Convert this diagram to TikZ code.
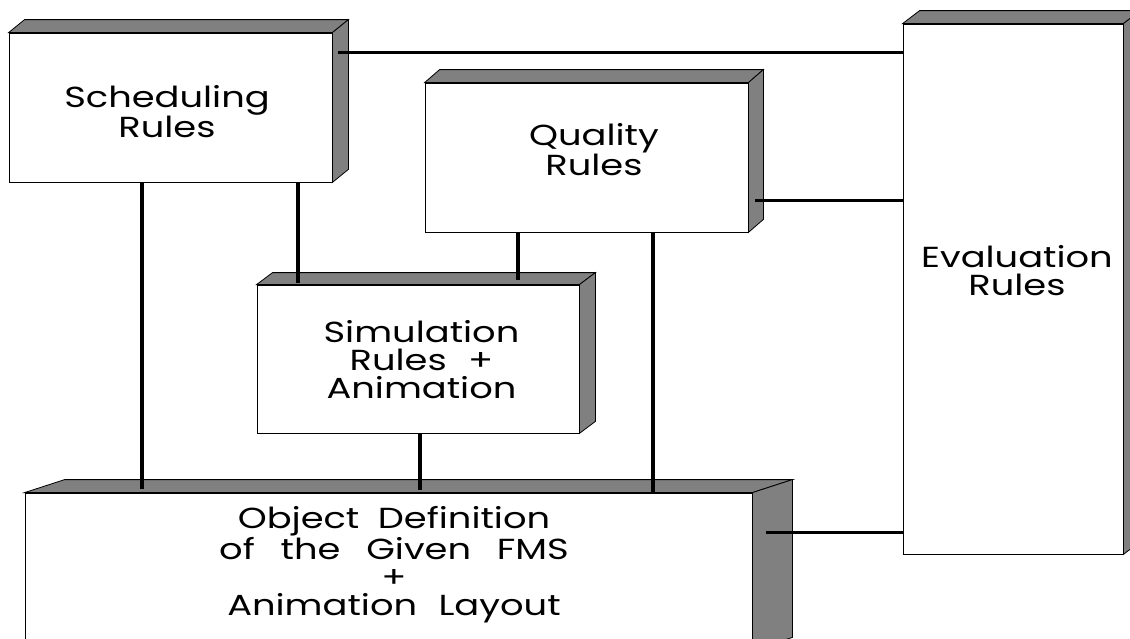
\documentclass[tikz,border=0pt]{standalone}
\usepackage{fontspec}
\setmainfont[FakeStretch=1.27]{Poppins}
\usetikzlibrary{calc}

\definecolor{sidegray}{HTML}{808080}

\tikzset{
  face/.style={draw=black, line width=0.8pt, fill=white, inner sep=0pt},
  shade/.style={draw=black, line width=0.8pt, fill=sidegray, line join=miter},
  conn/.style={line width=3.2pt},
  lbl/.style={align=center, inner sep=0pt, anchor=north,
              font=\fontsize{29}{28}\selectfont},
}

% top and right faces of a raised block, given the depth offset
\newcommand{\extrude}[3]{%
  \filldraw[shade] (#1.north west) -- ++(#2,-#3)
     -- ([shift={(#2,-#3)}]#1.north east) -- (#1.north east) -- cycle;
  \filldraw[shade] (#1.north east) -- ([shift={(#2,-#3)}]#1.north east)
     -- ([shift={(#2,-#3)}]#1.south east) -- (#1.south east) -- cycle;
}

\begin{document}
\begin{tikzpicture}[x=1pt, y=-1pt]
\clip (0,0) rectangle (1130,638);
\fill[white] (0,0) rectangle (1130,638);

% blocks
\node[face, minimum width=323pt, minimum height=149pt] (sched) at (170.5,107.5) {};
\extrude{sched}{16}{13}
\node[face, minimum width=323pt, minimum height=149pt] (qual) at (586.5,157.5) {};
\extrude{qual}{15}{13}
\node[face, minimum width=322pt, minimum height=148pt] (sim) at (418,359) {};
\extrude{sim}{16}{12}
\node[face, minimum width=220pt, minimum height=530pt] (eval) at (1013,289) {};
\extrude{eval}{17}{13}
\node[face, minimum width=727pt, minimum height=157pt] (obj) at (388.5,571.5) {};
\extrude{obj}{40}{13}

% labels
\node[lbl, font=\fontsize{29}{24}\selectfont] (tsched) at (167,85) {Scheduling\\Rules};
\node[lbl] (tqual) at (594,123) {Quality\\Rules};
\node[lbl] (tsim) at (421.5,320) {Simulation\\Rules\hspace{0.4em} +\\Animation};
\node[lbl] (teval) at (1017,245) {Evaluation\\Rules};
\node[lbl] (tobj) at (394,506) {Object\hspace{0.3em} Definition\\of\hspace{0.55em} the\hspace{0.55em} Given\hspace{0.55em} FMS\\+\\Animation\hspace{0.4em} Layout};

% connectors
\draw[conn] ($(sched.north east)+(6,20)$) -- (eval.west |- {$(sched.north east)+(6,20)$});
\draw[conn] ($(qual.south east)+(7,-32)$) -- (eval.west |- {$(qual.south east)+(7,-32)$});
\draw[conn] ($(obj.north east)+(14,40)$) -- (eval.west |- {$(obj.north east)+(14,40)$});

\draw[conn] (sched.south -| 142,0) -- ($(obj.north -| 142,0)+(0,-4)$);
\draw[conn] (sched.south -| 298,0) -- ($(sim.north -| 298,0)+(0,-2)$);
\draw[conn] (qual.south -| 518,0) -- ($(sim.north -| 518,0)+(0,-5)$);
\draw[conn] (qual.south -| 653,0) -- ($(obj.north -| 653,0)+(0,-1)$);
\draw[conn] (sim.south -| 420,0) -- ($(obj.north -| 420,0)+(0,-3)$);
\end{tikzpicture}
\end{document}
